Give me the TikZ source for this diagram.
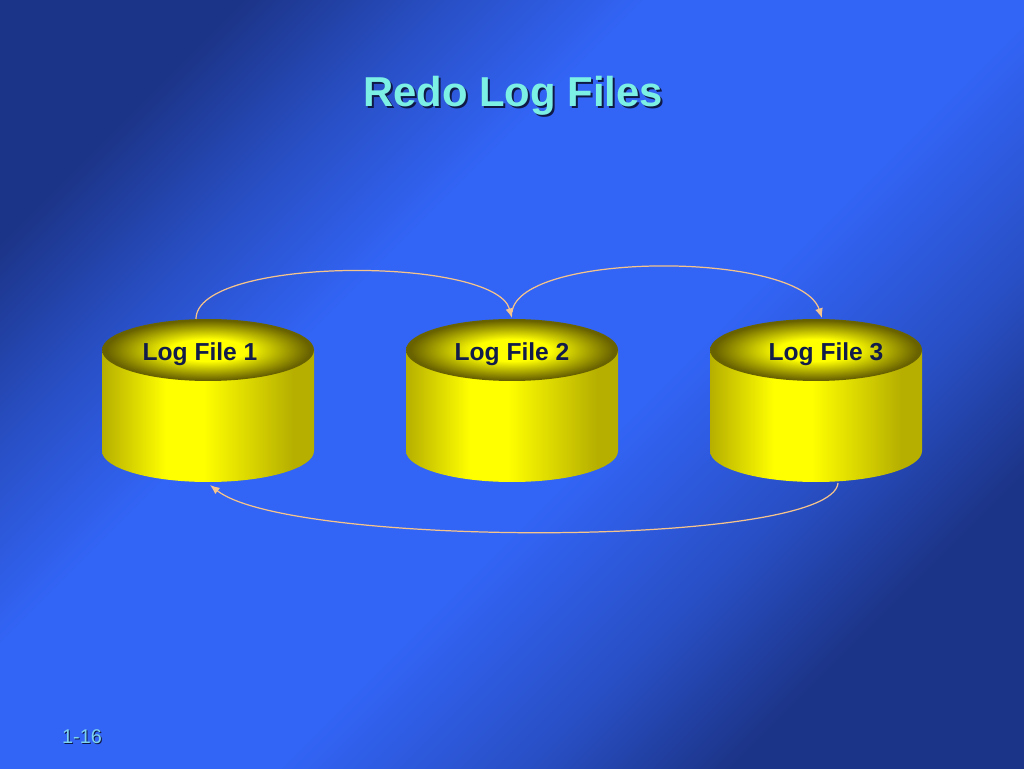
\documentclass[tikz,border=0pt]{standalone}
\usepackage{fontspec}
\setmainfont{Liberation Sans}
\usetikzlibrary{arrows.meta,positioning}
\definecolor{bgdark}{RGB}{28,52,135}
\definecolor{bgbright}{RGB}{50,100,245}
\definecolor{cylolive}{RGB}{182,175,0}
\definecolor{cyldark}{RGB}{105,98,0}
\definecolor{titlecyan}{RGB}{125,240,230}
\definecolor{pagecyan}{RGB}{125,210,238}
\definecolor{shadownavy}{RGB}{15,25,70}
\definecolor{labelnavy}{RGB}{18,28,75}
\definecolor{linkpeach}{RGB}{245,195,140}
\pgfdeclareverticalshading{slidebg}{100bp}{color(0bp)=(bgdark); color(26bp)=(bgdark); color(34bp)=(bgdark!45!bgbright); color(44bp)=(bgbright); color(60bp)=(bgbright); color(68bp)=(bgdark!45!bgbright); color(76bp)=(bgdark); color(100bp)=(bgdark)}
\pgfdeclarehorizontalshading{cylbody}{100bp}{color(0bp)=(cylolive); color(25bp)=(cylolive); color(40bp)=(yellow); color(49bp)=(yellow); color(70bp)=(cylolive); color(100bp)=(cylolive)}
\pgfdeclareradialshading{cyltop}{\pgfpoint{0bp}{0bp}}{color(0bp)=(yellow); color(9bp)=(yellow); color(24bp)=(cyldark); color(25bp)=(cyldark); color(50bp)=(cyldark)}

\begin{document}
\begin{tikzpicture}[x=0.02cm,y=0.02cm,
    titletext/.style={font=\fontsize{23.8}{28}\selectfont\bfseries, inner sep=0pt},
    filelabel/.style={font=\fontsize{14}{17}\selectfont\bfseries, text=labelnavy, inner sep=0pt},
    pagetext/.style={font=\fontsize{11.3}{13}\selectfont, inner sep=0pt},
    link/.style={linkpeach, line width=0.7pt, -{Latex[length=5.5pt,width=4.5pt]}}]
    \useasboundingbox (0,0) rectangle (1024,768);
    \shade[shading=slidebg, shading angle=45] (0,0) rectangle (1024,768);

    % title with its shadow
    \node[titletext, text=shadownavy] (titleshade) at (515,670) {Redo Log Files};
    \node[titletext, text=titlecyan] (title) at (513,672) {Redo Log Files};

    % log files
    \foreach \cx/\lx/\n in {208/200/1,512/512/2,816/826/3}{
        \shade[shading=cylbody] (\cx-106,418) -- (\cx-106,317)
            arc[start angle=180, end angle=360, x radius=106, y radius=31] -- (\cx+106,418) -- cycle;
        \shade[shading=cyltop] (\cx,418) ellipse[x radius=106, y radius=31];
        \node[filelabel] (file\n) at (\lx,414) {Log File \n};
    }

    % link ends
    \coordinate (out1) at (196,449);
    \coordinate (in2) at (512,450);
    \coordinate (out2) at (512,456);
    \coordinate (in3) at (822,450);
    \coordinate (out3) at (838,285);
    \coordinate (in1) at (210,283);

    \draw[link] (out1) .. controls (196,512) and (495,512) .. (in2);
    \draw[link] (out2) .. controls (520,517) and (800,517) .. (in3);
    \draw[link] (out3) .. controls (832,220) and (290,220) .. (in1);

    % page number
    \node[pagetext, text=shadownavy] (pageshade) at (83,30) {1-16};
    \node[pagetext, text=pagecyan] (page) at (82,31) {1-16};
\end{tikzpicture}
\end{document}
